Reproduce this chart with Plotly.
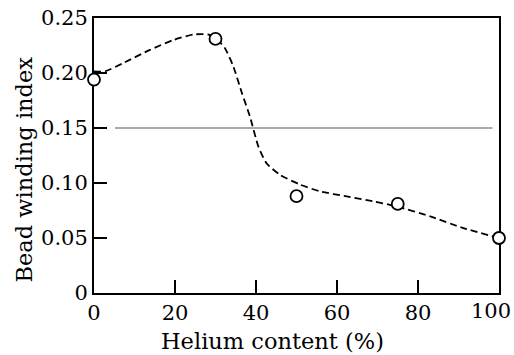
import plotly.graph_objects as go

# Measured points
helium_pct = [0, 30, 50, 75, 100]
bead_index = [0.194, 0.231, 0.088, 0.081, 0.050]

# Hand-drawn trend curve (dashed)
trend_x = [0, 2.7, 7.2, 13.8, 19.6, 24.5, 28.2, 30.0, 32.3, 34.4, 36.5, 38.5,
           40.6, 42.6, 45.9, 50.9, 55.8, 62.4, 69.0, 74.7, 83.0, 91.2, 100]
trend_y = [0.2015, 0.2015, 0.209, 0.221, 0.230, 0.235, 0.235, 0.232, 0.2227, 0.206,
           0.182, 0.1605, 0.133, 0.118, 0.1075, 0.0985, 0.0924, 0.0878, 0.0833,
           0.0787, 0.0697, 0.059, 0.050]

# Reference level
ref_x = [5.2, 98.4]
ref_y = [0.15, 0.15]

x_ticks = [0, 20, 40, 60, 80, 100]
x_tick_text = ["0", "20", "40", "60", "80", "100"]
y_ticks = [0, 0.05, 0.10, 0.15, 0.20, 0.25]
y_tick_text = ["0", "0.05", "0.10", "0.15", "0.20", "0.25"]

x_title = "Helium content (%)"
y_title = "Bead winding index"

family = "'DejaVu Serif', 'Liberation Serif', serif"
title_font = dict(family=family, size=22.5, color="black")
tick_font = dict(family=family, size=21, color="black")

fig = go.Figure()
fig.add_trace(go.Scatter(
    x=ref_x, y=ref_y, mode="lines",
    line=dict(color="#555555", width=1.2),
    hoverinfo="skip", cliponaxis=False,
))
fig.add_trace(go.Scatter(
    x=trend_x, y=trend_y, mode="lines",
    line=dict(color="black", width=1.8, dash="7px,4px", shape="spline", smoothing=0.6),
    hoverinfo="skip", cliponaxis=False,
))
fig.add_trace(go.Scatter(
    x=helium_pct, y=bead_index, mode="markers",
    marker=dict(symbol="circle", size=12, color="white",
                line=dict(color="black", width=1.8)),
    cliponaxis=False,
))

# the last x label sits at the right edge; draw it as an annotation nudged inward
axis_labels = x_tick_text[:-1] + [""]
fig.add_annotation(
    x=x_ticks[-1], y=0, xref="x", yref="paper", text=x_tick_text[-1],
    showarrow=False, xanchor="center", yanchor="top", xshift=-8, yshift=-4,
    font=tick_font,
)

# axis titles, placed as free text
fig.add_annotation(
    x=0.5, y=0, xref="paper", yref="paper", text=x_title, showarrow=False,
    xanchor="center", yanchor="middle", xshift=-24, yshift=-48, font=title_font,
)
fig.add_annotation(
    x=0, y=0.5, xref="paper", yref="paper", text=y_title, showarrow=False,
    textangle=-90, xanchor="center", yanchor="middle", xshift=-71, yshift=-14,
    font=title_font,
)

fig.update_layout(
    width=514, height=355,
    margin=dict(l=94, r=15, t=18, b=62),
    paper_bgcolor="white", plot_bgcolor="white",
    showlegend=False,
    font=tick_font,
    xaxis=dict(
        range=[0, 100], tickvals=x_ticks, ticktext=axis_labels, ticks="inside",
        ticklen=13, tickwidth=1.8,
        tickcolor="black", showline=True, linecolor="black", linewidth=2, mirror=True,
        showgrid=False, zeroline=False, layer="below traces",
        tickfont=tick_font, automargin=False,
    ),
    yaxis=dict(
        range=[0, 0.25], tickvals=y_ticks, ticktext=y_tick_text, ticks="inside",
        ticklen=13, tickwidth=1.8, tickcolor="black", showline=True, linecolor="black",
        linewidth=2, mirror=True, showgrid=False, zeroline=False, layer="below traces",
        tickfont=tick_font, automargin=False,
    ),
)

fig.write_html("out.html")
